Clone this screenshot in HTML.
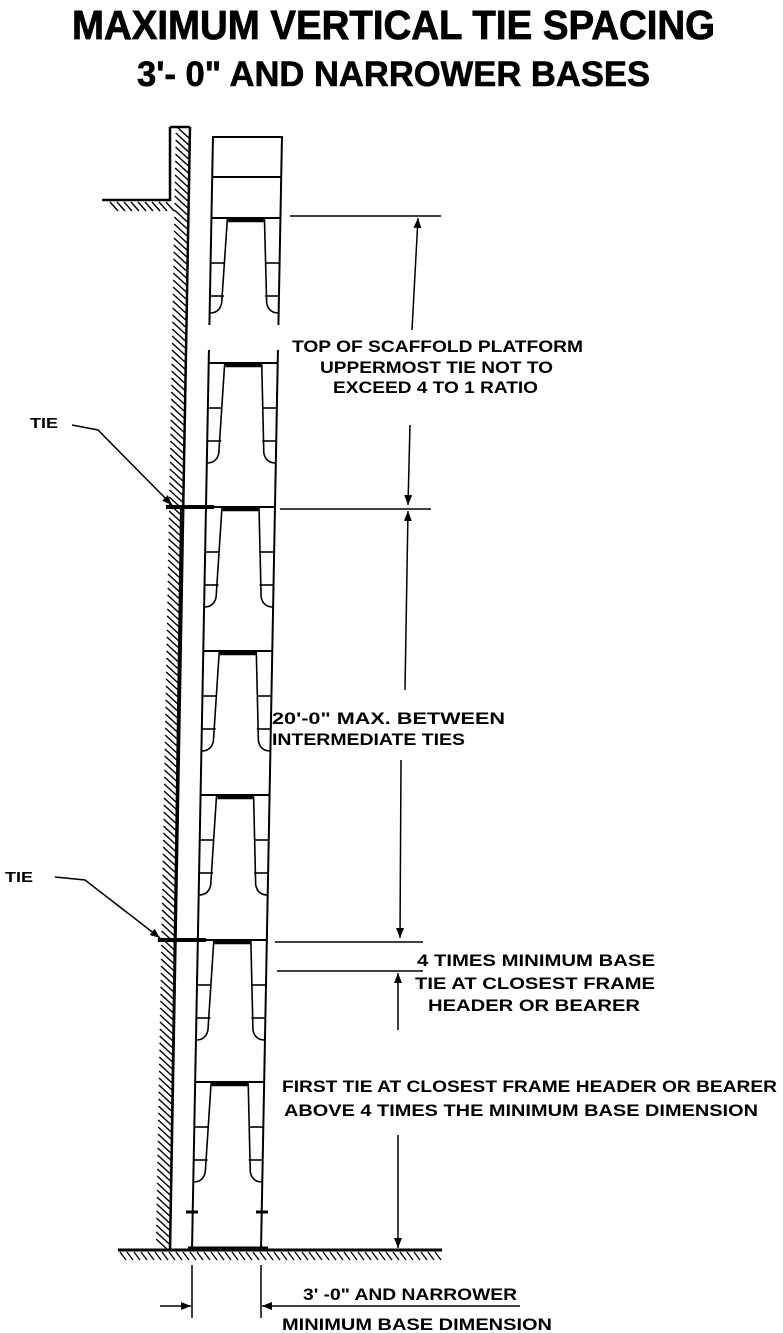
<!DOCTYPE html>
<html><head><meta charset="utf-8"><style>
html,body{margin:0;padding:0;background:#fff;}
svg{display:block;}
text{font-family:"Liberation Sans",Arial,sans-serif;font-weight:bold;fill:#000;}
</style></head><body>
<svg id="fig" width="783" height="1333" viewBox="0 0 783 1333" xmlns="http://www.w3.org/2000/svg">
<defs>
<marker id="ah" viewBox="0 0 10 10" refX="10" refY="5" markerWidth="10" markerHeight="10" orient="auto" markerUnits="userSpaceOnUse"><path d="M0,1 L10,5 L0,9 Z" fill="#000"/></marker>
</defs>
<text x="72" y="39" font-size="41" textLength="643" lengthAdjust="spacingAndGlyphs" stroke="#000" stroke-width="0.8">MAXIMUM VERTICAL TIE SPACING</text>
<text x="137" y="86" font-size="35" textLength="513" lengthAdjust="spacingAndGlyphs" stroke="#000" stroke-width="0.6">3'- 0" AND NARROWER BASES</text>

<g id="wall" stroke="#000" fill="none"></g>
<g id="frames" stroke="#000" fill="none" stroke-width="2"></g>
<g id="ground" stroke="#000" fill="none"></g>

<g stroke="#000" stroke-width="1.5" fill="none">
<line x1="290" y1="216" x2="441" y2="216"/>
<line x1="412" y1="330" x2="418" y2="218" marker-end="url(#ah)"/>
<line x1="410" y1="425" x2="408" y2="505" marker-end="url(#ah)"/>
<line x1="280" y1="509" x2="431" y2="509"/>
<line x1="405" y1="690" x2="408" y2="511" marker-end="url(#ah)"/>
<line x1="401" y1="760" x2="400" y2="938" marker-end="url(#ah)"/>
<line x1="275" y1="942" x2="423" y2="942"/>
<line x1="277" y1="971" x2="423" y2="971"/>
<line x1="398" y1="1030" x2="398" y2="973" marker-end="url(#ah)"/>
<line x1="398" y1="1135" x2="398" y2="1248" marker-end="url(#ah)"/>
<line x1="192" y1="1265" x2="192" y2="1318"/>
<line x1="261" y1="1265" x2="261" y2="1318"/>
<line x1="160" y1="1306" x2="191" y2="1306" marker-end="url(#ah)"/>
<line x1="520" y1="1306" x2="262" y2="1306" marker-end="url(#ah)"/>
</g>

<g stroke="#000" stroke-width="1.5" fill="none">
<polyline points="72,425 98,430 172,505" marker-end="url(#ah)"/>
<polyline points="55,877 85,880 160,938" marker-end="url(#ah)"/>
</g>
<text x="30" y="428" font-size="15" textLength="28" lengthAdjust="spacingAndGlyphs">TIE</text>
<text x="5" y="882" font-size="15" textLength="28" lengthAdjust="spacingAndGlyphs">TIE</text>

<g font-size="17" lengthAdjust="spacingAndGlyphs">
<text x="292" y="352" textLength="291" lengthAdjust="spacingAndGlyphs">TOP OF SCAFFOLD PLATFORM</text>
<text x="320" y="373" textLength="233" lengthAdjust="spacingAndGlyphs">UPPERMOST TIE NOT TO</text>
<text x="333" y="393" textLength="205" lengthAdjust="spacingAndGlyphs">EXCEED 4 TO 1 RATIO</text>
<text x="272" y="724" textLength="233" lengthAdjust="spacingAndGlyphs">20'-0" MAX. BETWEEN</text>
<text x="272" y="745" textLength="193" lengthAdjust="spacingAndGlyphs">INTERMEDIATE TIES</text>
<text x="417" y="966" textLength="238" lengthAdjust="spacingAndGlyphs">4 TIMES MINIMUM BASE</text>
<text x="415" y="989" textLength="240" lengthAdjust="spacingAndGlyphs">TIE AT CLOSEST FRAME</text>
<text x="428" y="1011" textLength="212" lengthAdjust="spacingAndGlyphs">HEADER OR BEARER</text>
<text x="282" y="1092" textLength="495" lengthAdjust="spacingAndGlyphs">FIRST TIE AT CLOSEST FRAME HEADER OR BEARER</text>
<text x="284" y="1116" textLength="474" lengthAdjust="spacingAndGlyphs">ABOVE 4 TIMES THE MINIMUM BASE DIMENSION</text>
<text x="303" y="1300" textLength="214" lengthAdjust="spacingAndGlyphs">3' -0" AND NARROWER</text>
<text x="282" y="1330" textLength="270" lengthAdjust="spacingAndGlyphs">MINIMUM BASE DIMENSION</text>
</g>
</svg>
<script>
const NS="http://www.w3.org/2000/svg";
const headerYs=[363,507,651,795,940,1082];
const topFrameY=218, baseY=1250;
function mk(tag,attrs,parent){const e=document.createElementNS(NS,tag);for(const k in attrs)e.setAttribute(k,attrs[k]);parent.appendChild(e);return e;}
function legL(y){return 213-(y-135)*(21/1115);}
const W=69;
const frames=document.getElementById('frames');
const tb=mk('path',{d:`M${legL(218)},218 L${legL(137)},137 L${legL(137)+W},137 L${legL(218)+W},218 M${legL(177)},177 L${legL(177)+W},177`},frames);


function frame(y0,y1,name){
  const g=mk('g',{},frames);
  
  
  const L0=legL(y0),L1=legL(y1);
  mk('line',{x1:L0,y1:y0,x2:L1,y2:y1},g);
  mk('line',{x1:L0+W,y1:y0,x2:L1+W,y2:y1},g);
  mk('line',{x1:L0,y1:y0,x2:L0+W,y2:y0},g);
  const h=Math.min(y1-y0,144);
  const bot=y0+Math.min(h-12,100);
  const Lb=legL(bot);
  mk('path',{d:`M${L0+16},${y0} L${Lb+12},${bot-10} Q${Lb+10},${bot} ${Lb},${bot}`,"stroke-width":1.6},g);
  mk('path',{d:`M${L0+W-16},${y0} L${Lb+W-12},${bot-10} Q${Lb+W-10},${bot} ${Lb+W},${bot}`,"stroke-width":1.6},g);
  [45,78].forEach(d=>{const yy=y0+d;if(yy<bot){const l=legL(yy);
    mk('line',{x1:l,y1:yy,x2:l+14,y2:yy,"stroke-width":1.6},g);
    mk('line',{x1:l+W-14,y1:yy,x2:l+W,y2:yy,"stroke-width":1.6},g);}});
  mk('rect',{x:L0+17,y:y0+1,width:W-34,height:3,fill:"#000","stroke-width":0.5},g);
}
frame(topFrameY,325,'frame-1');
for(let i=0;i<headerYs.length;i++){
  const y0=headerYs[i],y1=i<headerYs.length-1?headerYs[i+1]:baseY;
  frame(y0,y1,'frame-'+(i+2));
}
const st=mk('path',{d:`M${legL(350)},350 L${legL(363)},363 M${legL(350)+W},350 L${legL(363)+W},363`},frames);


const bp=mk('path',{d:`M188,1248 L268,1248 M186,1212 L198,1212 M256,1212 L268,1212`,"stroke-width":3},frames);


const iv=mk('line',{x1:181,y1:507,x2:170,y2:1250,"stroke-width":2},frames);


const tieYs=[507,940];
tieYs.forEach((y,i)=>{
  const t=mk('line',{x1:legL(y)-40,y1:y,x2:legL(y)+8,y2:y,"stroke-width":4},frames);
  
  
});
const wall=document.getElementById('wall');
function wallR(y){return 190-(y-127)*(20/1123);}
const wl=mk('path',{d:`M${wallR(127)},127 L${wallR(1250)},1250 M${wallR(127)-20},127 L${wallR(127)},127 M${wallR(127)-20},127 L${wallR(127)-20},200 L102,200`,"stroke-width":2.5},wall);


let d='';
for(let y=132;y<1250;y+=7){const x=wallR(y);d+=`M${x-14},${y-6} L${x-1},${y+6} `;}
for(let x=110;x<168;x+=7){d+=`M${x},202 L${x+8},211 `;}
const wh=mk('path',{d:d,"stroke-width":1.4},wall);


const ground=document.getElementById('ground');
const gl=mk('line',{x1:118,y1:baseY,x2:442,y2:baseY,"stroke-width":3},ground);


let gd='';for(let x=120;x<440;x+=7){gd+=`M${x},${baseY+2} L${x+6},${baseY+10} `;}
const gh=mk('path',{d:gd,"stroke-width":1.3},ground);


</script>
</body></html>
